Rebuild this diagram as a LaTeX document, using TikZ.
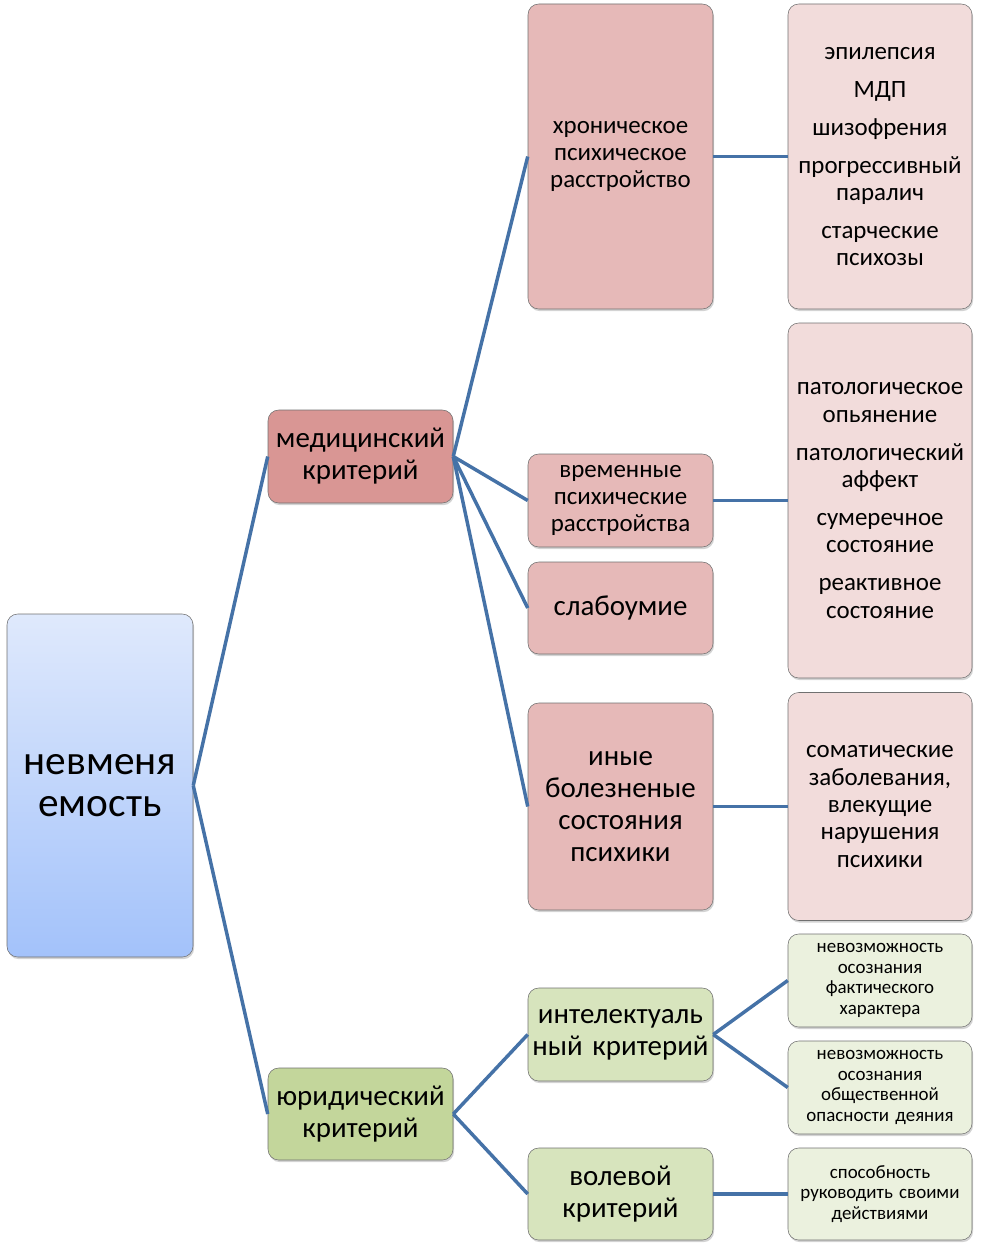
\documentclass[tikz,border=0pt]{standalone}
\usepackage{fontspec}
\setmainfont{Carlito}
\usetikzlibrary{shadows}

\definecolor{linkblue}{HTML}{4572A7}
\definecolor{edgegray}{HTML}{707070}
\definecolor{medred}{HTML}{D99694}
\definecolor{medpink}{HTML}{E6B9B8}
\definecolor{lightpink}{HTML}{F2DCDB}
\definecolor{jurgreen}{HTML}{C3D69B}
\definecolor{midgreen}{HTML}{D7E4BD}
\definecolor{lightgreen}{HTML}{EBF1DE}
\definecolor{roottop}{HTML}{DFE9FC}
\definecolor{rootbot}{HTML}{A3C2FA}

\begin{document}
\begin{tikzpicture}[x=0.75pt, y=-0.75pt,
  box/.style={draw=edgegray, thin, rounded corners=8pt, align=center, inner sep=2pt,
    drop shadow={shadow xshift=0.8pt, shadow yshift=-1.6pt, opacity=0.35}},
  sz/.style 2 args={minimum width=#1*0.75pt, minimum height=#2*0.75pt, text width=#1*0.75pt-6pt},
  huge/.style={font=\fontsize{31}{32}\selectfont},
  big/.style={font=\fontsize{21.7}{24}\selectfont},
  mid/.style={font=\fontsize{18.7}{20.5}\selectfont},
  small/.style={font=\fontsize{14.2}{15.4}\selectfont},
  link/.style={draw=linkblue, line width=2.6pt}]

\useasboundingbox (0,0) rectangle (982,1252);

\begin{scope}
\node[box, sz={186}{343}, top color=roottop, bottom color=rootbot, huge] (root) at (100,785.5) {невменя\\емость};
\node[box, sz={185}{93}, fill=medred, big] (med) at (360.5,456.5) {медицинский\\критерий};
\node[box, sz={185}{92}, fill=jurgreen, big] (jur) at (360.5,1114) {юридический\\критерий};
\end{scope}

\begin{scope}
\node[box, sz={185}{305}, fill=medpink, mid] (chron) at (620.5,156.5) {хроническое\\психическое\\расстройство};
\node[box, sz={185}{93}, fill=medpink, mid] (temp) at (620.5,500.5) {временные\\психические\\расстройства};
\node[box, sz={185}{92}, fill=medpink, big] (weak) at (620.5,608) {слабоумие};
\node[box, sz={185}{207}, fill=medpink, big] (other) at (620.5,806.5) {иные\\болезненые\\состояния\\психики};
\node[box, sz={185}{93}, fill=midgreen, big] (intel) at (620.5,1034.5) {интелектуаль\\ный критерий};
\node[box, sz={185}{92}, fill=midgreen, big] (will) at (620.5,1194) {волевой\\критерий};
\end{scope}

\begin{scope}
\node[box, sz={184}{305}, fill=lightpink, mid] (chronlist) at (880,156.5)
  {эпилепсия\\[8pt] МДП\\[8pt] шизофрения\\[8pt] прогрессивный\\паралич\\[8pt] старческие\\психозы};
\node[box, sz={184}{355}, fill=lightpink, mid] (templist) at (880,500.5)
  {патологическое\\опьянение\\[8pt] патологический\\аффект\\[8pt] сумеречное\\состояние\\[8pt] реактивное\\состояние};
\node[box, sz={184}{228}, fill=lightpink, mid] (somatic) at (880,806.5)
  {соматические\\заболевания,\\влекущие\\нарушения\\психики};
\node[box, sz={184}{93}, fill=lightgreen, small] (fact) at (880,980.5)
  {невозможность\\осознания\\фактического\\характера};
\node[box, sz={184}{93}, fill=lightgreen, small] (danger) at (880,1087.5)
  {невозможность\\осознания\\общественной\\опасности деяния};
\node[box, sz={184}{92}, fill=lightgreen, small] (control) at (880,1194)
  {способность\\руководить своими\\действиями};
\end{scope}

\begin{scope}[link]
\draw (root.east) -- (med.west);
\draw (root.east) -- (jur.west);
\draw (med.east) -- (chron.west);
\draw (med.east) -- (temp.west);
\draw (med.east) -- (weak.west);
\draw (med.east) -- (other.west);
\draw (jur.east) -- (intel.west);
\draw (jur.east) -- (will.west);
\draw (chron.east) -- (chronlist.west);
\draw (temp.east) -- (templist.west);
\draw (other.east) -- (somatic.west);
\draw (intel.east) -- (fact.west);
\draw (intel.east) -- (danger.west);
\draw (will.east) -- (control.west);
\end{scope}
\end{tikzpicture}
\end{document}
